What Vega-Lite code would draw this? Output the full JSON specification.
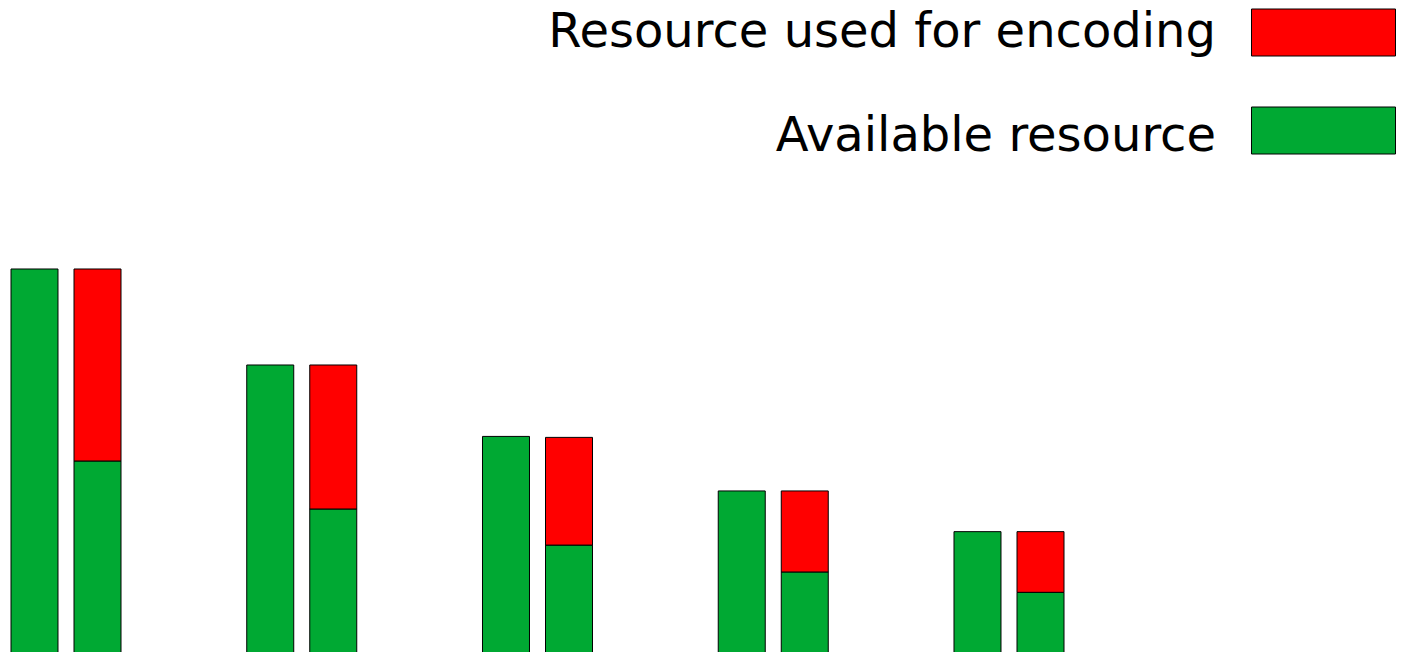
{
  "$schema": "https://vega.github.io/schema/vega-lite/v6.json",
  "width": 1406,
  "height": 652,
  "autosize": {"type": "fit", "contains": "padding"},
  "padding": 0,
  "background": "white",
  "config": {"view": {"stroke": null}},
  "data": {
    "values": [
      {"group": "G1", "bar": "A", "category": "Available resource", "value": 100},
      {"group": "G1", "bar": "B", "category": "Available resource", "value": 50},
      {"group": "G1", "bar": "B", "category": "Resource used for encoding", "value": 50},
      {"group": "G2", "bar": "A", "category": "Available resource", "value": 75},
      {"group": "G2", "bar": "B", "category": "Available resource", "value": 37.5},
      {"group": "G2", "bar": "B", "category": "Resource used for encoding", "value": 37.5},
      {"group": "G3", "bar": "A", "category": "Available resource", "value": 56.4},
      {"group": "G3", "bar": "B", "category": "Available resource", "value": 28.1},
      {"group": "G3", "bar": "B", "category": "Resource used for encoding", "value": 28.05},
      {"group": "G4", "bar": "A", "category": "Available resource", "value": 42.2},
      {"group": "G4", "bar": "B", "category": "Available resource", "value": 21.1},
      {"group": "G4", "bar": "B", "category": "Resource used for encoding", "value": 21.1},
      {"group": "G5", "bar": "A", "category": "Available resource", "value": 31.6},
      {"group": "G5", "bar": "B", "category": "Available resource", "value": 15.8},
      {"group": "G5", "bar": "B", "category": "Resource used for encoding", "value": 15.8}
    ]
  },
  "mark": {"type": "bar", "stroke": "black", "strokeWidth": 1, "clip": true},
  "encoding": {
    "x": {
      "field": "group",
      "type": "nominal",
      "axis": null,
      "scale": {"range": [11, 1064], "paddingInner": 0.5334, "paddingOuter": 0}
    },
    "xOffset": {
      "field": "bar",
      "type": "nominal",
      "scale": {"paddingInner": 0.254, "paddingOuter": 0}
    },
    "y": {
      "field": "value",
      "type": "quantitative",
      "stack": "zero",
      "axis": null,
      "scale": {"domain": [0.26, 170.05]}
    },
    "color": {
      "field": "category",
      "type": "nominal",
      "scale": {
        "domain": ["Resource used for encoding", "Available resource"],
        "range": ["#ff0000", "#00a933"]
      },
      "legend": {
        "orient": "none",
        "legendX": 1276,
        "legendY": -15,
        "title": null,
        "padding": 0,
        "symbolType": "M-1.532,-0.5H1.532V0.5H-1.532Z",
        "symbolSize": 8836,
        "symbolStrokeColor": "black",
        "symbolStrokeWidth": 1,
        "symbolOpacity": 1,
        "labelFont": "DejaVu Sans",
        "labelFontSize": 48,
        "labelColor": "black",
        "labelAlign": "right",
        "labelOffset": -155,
        "labelLimit": 0,
        "rowPadding": 25,
        "encode": {
          "labels": {"update": {"dy": {"signal": "datum.index * 6"}}}
        }
      }
    },
    "order": {"field": "category", "sort": "ascending"}
  }
}
